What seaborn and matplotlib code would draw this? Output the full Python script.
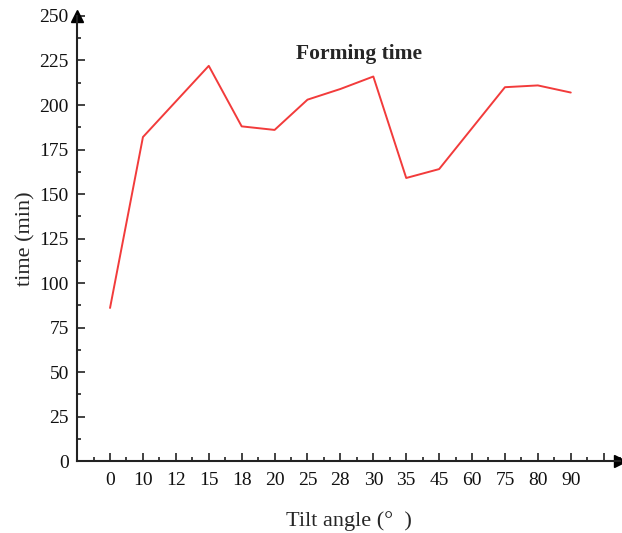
import matplotlib
matplotlib.use('Agg')
import matplotlib.pyplot as plt
from matplotlib.ticker import MultipleLocator
import seaborn as sns
import pandas as pd

# Data
angles = ['0', '10', '12', '15', '18', '20', '25', '28', '30', '35', '45', '60', '75', '80', '90']
forming_time = [86, 182, 202, 222, 188, 186, 203, 209, 216, 159, 164, 187, 210, 211, 207]

df = pd.DataFrame({'angle': angles, 'time': forming_time})

sns.set_style('white')
plt.rcParams['font.family'] = ['Liberation Serif', 'DejaVu Serif']

fig = plt.figure(figsize=(6.22, 5.33), dpi=100)
ax = fig.add_axes([0.124, 0.135, 0.873, 0.835])

sns.lineplot(data=df, x='angle', y='time', sort=False, color='#f23b3b', linewidth=1.4, ax=ax)

ax.set_xlim(-1, 15.2)
ax.set_ylim(0, 250)

ax.set_xticks(range(len(angles) + 1))
ax.set_xticklabels(angles + [''])
ax.set_xticks([i - 0.5 for i in range(len(angles) + 2)], minor=True)
ax.yaxis.set_major_locator(MultipleLocator(25))
ax.yaxis.set_minor_locator(MultipleLocator(12.5))

ax.tick_params(axis='both', which='both', bottom=True, left=True)
ax.tick_params(axis='both', which='major', direction='in', length=6, width=1.2,
               colors='#222222', labelsize=14, labelcolor='#111111')
ax.tick_params(axis='both', which='minor', direction='in', length=3, width=1.2, colors='#222222')
ax.tick_params(axis='x', which='major', pad=8)
ax.tick_params(axis='y', which='major', pad=6)

for side in ['top', 'right']:
    ax.spines[side].set_visible(False)
for side in ['left', 'bottom']:
    ax.spines[side].set_linewidth(1.5)
    ax.spines[side].set_color('#222222')

# axis arrows
ax.plot(0, 1, marker='^', markersize=8, color='black', transform=ax.transAxes, clip_on=False)
ax.plot(1, 0, marker='>', markersize=8, color='black', transform=ax.transAxes, clip_on=False)

ax.set_xlabel('Tilt angle (°  )', fontsize=16, labelpad=16)
ax.set_ylabel('time (min)', fontsize=16, labelpad=3)

ax.text(0.52, 0.915, 'Forming time', transform=ax.transAxes, ha='center', va='center',
        fontsize=15.5, fontweight='bold')

fig.savefig('out.png', dpi=100)
